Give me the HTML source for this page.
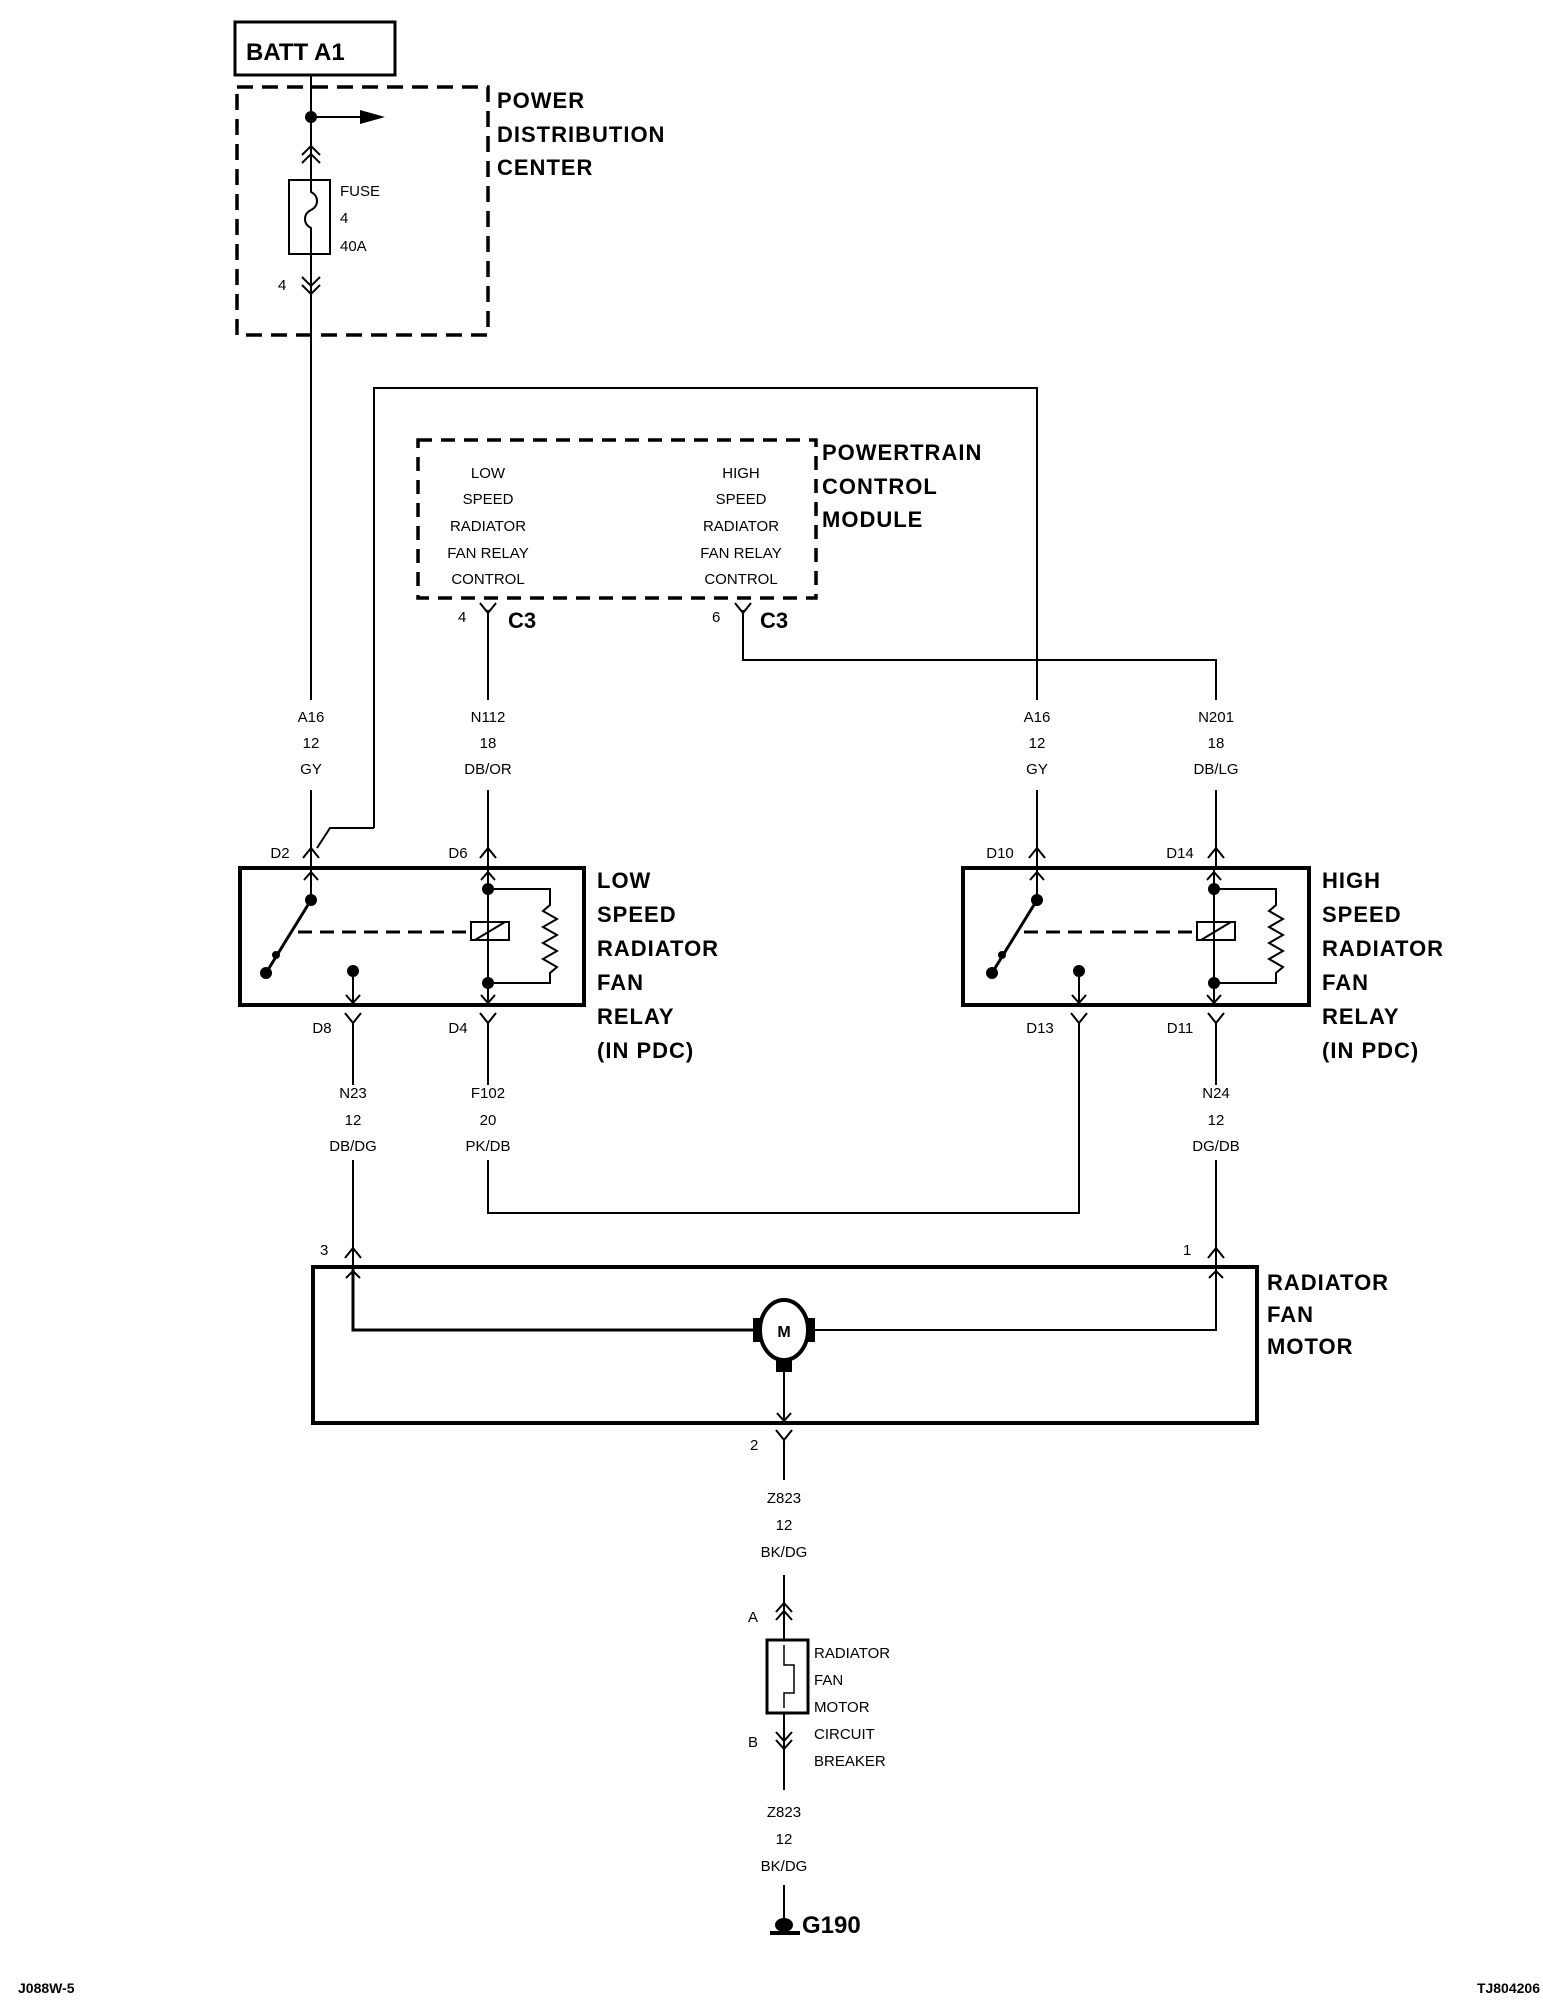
<!DOCTYPE html>
<html><head><style>
html,body{margin:0;padding:0;background:#fff;}
svg{display:block;}
text{font-family:"Liberation Sans",sans-serif;fill:#000;}
.s{font-size:15px;text-anchor:middle;}
.sl{font-size:15px;}
.b{font-size:22px;font-weight:bold;letter-spacing:1px;}
</style></head><body>
<svg width="1543" height="2003" viewBox="0 0 1543 2003" xmlns="http://www.w3.org/2000/svg">
<rect width="1543" height="2003" fill="#fff"/>
<g stroke="#000" fill="none" stroke-width="2">
<rect x="235" y="22" width="160" height="53" stroke-width="3"/>
<rect x="237" y="87" width="251" height="248" stroke-width="3.5" stroke-dasharray="16,9"/>
<line x1="311" y1="75" x2="311" y2="700"/>
<line x1="311" y1="790" x2="311" y2="868"/>
<line x1="311" y1="117" x2="360" y2="117"/>
<rect x="289" y="180" width="41" height="74" fill="#fff"/>
<path d="M311 180 v12 c8 4 8 14 0 18 c-8 4 -8 14 0 18 v26"/>
<polyline points="302,155 311,146 320,155"/><polyline points="302,163 311,154 320,163"/>
<polyline points="302,277 311,286 320,277"/><polyline points="302,285 311,294 320,285"/>
<polyline points="374,828 374,388 1037,388 1037,700"/>
<line x1="1037" y1="790" x2="1037" y2="868"/>
<polyline points="374,828 330,828 317,848" />
<rect x="418" y="440" width="398" height="158" stroke-width="3.5" stroke-dasharray="14,9"/>
<line x1="488" y1="610" x2="488" y2="700"/>
<line x1="488" y1="790" x2="488" y2="868"/>
<polyline points="743,610 743,660 1216,660 1216,700"/>
<line x1="1216" y1="790" x2="1216" y2="868"/>
<polyline points="480,603 488,613 496,603"/><polyline points="735,603 743,613 751,603"/>
<polyline points="303,858 311,848 319,858"/>
<polyline points="480,858 488,848 496,858"/>
<polyline points="1029,858 1037,848 1045,858"/>
<polyline points="1208,858 1216,848 1224,858"/>
<rect x="240" y="868" width="344" height="137" stroke-width="4"/>
<rect x="963" y="868" width="346" height="137" stroke-width="4"/>
</g>
<g id="relay" stroke="#000" fill="none" stroke-width="2">
<line x1="311" y1="868" x2="311" y2="900"/>
<polyline points="304,880 311,872 318,880"/>
<line x1="311" y1="900" x2="266" y2="973" stroke-width="3"/>
<line x1="298" y1="932" x2="471" y2="932" stroke-dasharray="14,8" stroke-width="3"/>
<rect x="471" y="922" width="38" height="18"/>
<line x1="475" y1="940" x2="505" y2="922"/>
<line x1="488" y1="868" x2="488" y2="1005"/>
<polyline points="481,880 488,872 495,880"/>
<polyline points="481,995 488,1003 495,995"/>
<polyline points="488,889 550,889 550,905 543,911 557,919 543,927 557,935 543,943 557,951 543,959 557,967 550,973 550,983 488,983"/>
<line x1="353" y1="973" x2="353" y2="1005"/>
<polyline points="346,995 353,1003 360,995"/>
<g fill="#000" stroke="none">
<circle cx="311" cy="900" r="6"/><circle cx="266" cy="973" r="6"/><circle cx="276" cy="955" r="4"/>
<circle cx="488" cy="889" r="6"/><circle cx="488" cy="983" r="6"/><circle cx="353" cy="971" r="6"/>
</g>
</g>
<use href="#relay" transform="translate(726,0)"/>
<g stroke="#000" fill="none" stroke-width="2">
<polyline points="345,1013 353,1023 361,1013"/><line x1="353" y1="1023" x2="353" y2="1085"/>
<polyline points="480,1013 488,1023 496,1013"/><line x1="488" y1="1023" x2="488" y2="1085"/>
<polyline points="1071,1013 1079,1023 1087,1013"/>
<polyline points="1208,1013 1216,1023 1224,1013"/><line x1="1216" y1="1023" x2="1216" y2="1085"/>
<polyline points="488,1160 488,1213 1079,1213 1079,1023"/>
<line x1="353" y1="1160" x2="353" y2="1267"/>
<line x1="1216" y1="1160" x2="1216" y2="1267"/>
<polyline points="345,1258 353,1248 361,1258"/>
<polyline points="1208,1258 1216,1248 1224,1258"/>
<rect x="313" y="1267" width="944" height="156" stroke-width="4"/>
<polyline points="353,1267 353,1330 760,1330" stroke-width="3"/>
<polyline points="808,1330 1216,1330 1216,1267"/>
<polyline points="346,1278 353,1271 360,1278"/><polyline points="1209,1278 1216,1271 1223,1278"/>
<ellipse cx="784" cy="1330" rx="24" ry="30" stroke-width="4" fill="#fff"/>
<line x1="784" y1="1370" x2="784" y2="1423"/>
<polyline points="777,1413 784,1421 791,1413"/>
<polyline points="776,1430 784,1440 792,1430"/><line x1="784" y1="1440" x2="784" y2="1480"/>
<line x1="784" y1="1575" x2="784" y2="1640"/>
<polyline points="776,1612 784,1603 792,1612"/><polyline points="776,1620 784,1611 792,1620"/>
<rect x="767" y="1640" width="41" height="73" stroke-width="3"/>
<path d="M784 1645 v20 h10 v28 h-10 v15" stroke-width="1.5"/>
<line x1="784" y1="1713" x2="784" y2="1790"/>
<polyline points="776,1732 784,1741 792,1732"/><polyline points="776,1740 784,1749 792,1740"/>
<line x1="784" y1="1885" x2="784" y2="1920"/>
<line x1="770" y1="1933" x2="800" y2="1933" stroke-width="4"/>
</g>
<g fill="#000">
<circle cx="311" cy="117" r="6"/>
<polygon points="360,110 385,117 360,124"/>
<rect x="753" y="1318" width="8" height="24"/><rect x="807" y="1318" width="8" height="24"/>
<rect x="776" y="1358" width="16" height="14"/>
<ellipse cx="784" cy="1925" rx="9" ry="7"/>
</g>
<text x="246" y="60" style="font-size:24px;font-weight:bold">BATT A1</text>
<text class="b" x="497" y="108">POWER</text>
<text class="b" x="497" y="142">DISTRIBUTION</text>
<text class="b" x="497" y="175">CENTER</text>
<text class="sl" x="340" y="196">FUSE</text>
<text class="sl" x="340" y="223">4</text>
<text class="sl" x="340" y="251">40A</text>
<text class="sl" x="278" y="290">4</text>
<text class="b" x="822" y="460">POWERTRAIN</text>
<text class="b" x="822" y="494">CONTROL</text>
<text class="b" x="822" y="527">MODULE</text>
<text class="s" x="488" y="478">LOW</text><text class="s" x="488" y="504">SPEED</text><text class="s" x="488" y="531">RADIATOR</text><text class="s" x="488" y="558">FAN RELAY</text><text class="s" x="488" y="584">CONTROL</text>
<text class="s" x="741" y="478">HIGH</text><text class="s" x="741" y="504">SPEED</text><text class="s" x="741" y="531">RADIATOR</text><text class="s" x="741" y="558">FAN RELAY</text><text class="s" x="741" y="584">CONTROL</text>
<text class="sl" x="458" y="622">4</text><text x="508" y="628" style="font-size:22px;font-weight:bold">C3</text>
<text class="sl" x="712" y="622">6</text><text x="760" y="628" style="font-size:22px;font-weight:bold">C3</text>
<text class="s" x="311" y="722">A16</text><text class="s" x="311" y="748">12</text><text class="s" x="311" y="774">GY</text>
<text class="s" x="488" y="722">N112</text><text class="s" x="488" y="748">18</text><text class="s" x="488" y="774">DB/OR</text>
<text class="s" x="1037" y="722">A16</text><text class="s" x="1037" y="748">12</text><text class="s" x="1037" y="774">GY</text>
<text class="s" x="1216" y="722">N201</text><text class="s" x="1216" y="748">18</text><text class="s" x="1216" y="774">DB/LG</text>
<text class="s" x="280" y="858">D2</text><text class="s" x="458" y="858">D6</text>
<text class="s" x="1000" y="858">D10</text><text class="s" x="1180" y="858">D14</text>
<text class="s" x="322" y="1033">D8</text><text class="s" x="458" y="1033">D4</text>
<text class="s" x="1040" y="1033">D13</text><text class="s" x="1180" y="1033">D11</text>
<text class="b" x="597" y="888">LOW</text><text class="b" x="597" y="922">SPEED</text><text class="b" x="597" y="956">RADIATOR</text><text class="b" x="597" y="990">FAN</text><text class="b" x="597" y="1024">RELAY</text><text class="b" x="597" y="1058">(IN PDC)</text>
<text class="b" x="1322" y="888">HIGH</text><text class="b" x="1322" y="922">SPEED</text><text class="b" x="1322" y="956">RADIATOR</text><text class="b" x="1322" y="990">FAN</text><text class="b" x="1322" y="1024">RELAY</text><text class="b" x="1322" y="1058">(IN PDC)</text>
<text class="s" x="353" y="1098">N23</text><text class="s" x="353" y="1125">12</text><text class="s" x="353" y="1151">DB/DG</text>
<text class="s" x="488" y="1098">F102</text><text class="s" x="488" y="1125">20</text><text class="s" x="488" y="1151">PK/DB</text>
<text class="s" x="1216" y="1098">N24</text><text class="s" x="1216" y="1125">12</text><text class="s" x="1216" y="1151">DG/DB</text>
<text class="sl" x="320" y="1255">3</text><text class="sl" x="1183" y="1255">1</text>
<text x="784" y="1337" style="font-size:16px;font-weight:bold;text-anchor:middle">M</text>
<text class="b" x="1267" y="1290">RADIATOR</text><text class="b" x="1267" y="1322">FAN</text><text class="b" x="1267" y="1354">MOTOR</text>
<text class="sl" x="750" y="1450">2</text>
<text class="s" x="784" y="1503">Z823</text><text class="s" x="784" y="1530">12</text><text class="s" x="784" y="1557">BK/DG</text>
<text class="sl" x="748" y="1622">A</text><text class="sl" x="748" y="1747">B</text>
<text class="sl" x="814" y="1658">RADIATOR</text><text class="sl" x="814" y="1685">FAN</text><text class="sl" x="814" y="1712">MOTOR</text><text class="sl" x="814" y="1739">CIRCUIT</text><text class="sl" x="814" y="1766">BREAKER</text>
<text class="s" x="784" y="1817">Z823</text><text class="s" x="784" y="1844">12</text><text class="s" x="784" y="1871">BK/DG</text>
<text x="802" y="1933" style="font-size:24px;font-weight:bold">G190</text>
<text x="18" y="1993" style="font-size:14px;font-weight:bold">J088W-5</text>
<text x="1540" y="1993" style="font-size:14px;font-weight:bold;text-anchor:end">TJ804206</text>
</svg>
</body></html>
